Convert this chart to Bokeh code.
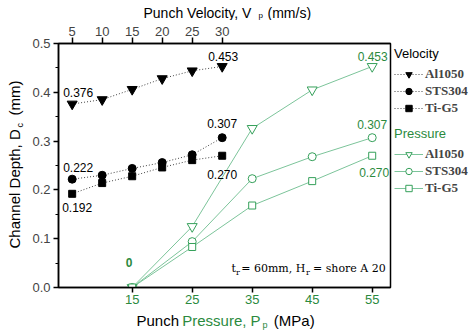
from math import pi
from bokeh.plotting import figure
from bokeh.layouts import column, row
from bokeh.models import (Range1d, LinearAxis, FixedTicker, Label, Legend,
                          LegendItem, PrintfTickFormatter)
from bokeh.embed import file_html
from bokeh.resources import INLINE

# ---- data ----
velocity = [5, 10, 15, 20, 25, 30]
v_al1050 = [0.376, 0.385, 0.406, 0.428, 0.444, 0.453]
v_sts304 = [0.222, 0.230, 0.244, 0.256, 0.272, 0.307]
v_tig5 = [0.192, 0.214, 0.228, 0.246, 0.261, 0.270]

pressure = [15, 25, 35, 45, 55]
p_al1050 = [0.0, 0.125, 0.326, 0.405, 0.453]
p_sts304 = [0.0, 0.094, 0.223, 0.268, 0.307]
p_tig5 = [0.0, 0.083, 0.168, 0.218, 0.270]

y_ticks = [0.0, 0.1, 0.2, 0.3, 0.4, 0.5]
y_minor = [0.05, 0.15, 0.25, 0.35, 0.45]
materials = ["Al1050", "STS304", "Ti-G5"]

# ---- styles ----
GREEN_TXT = "#2b8a3e"
GREEN_LINE = "#7cc49a"
GREEN_MK = "#35a05a"
SANS = "Liberation Sans"
SERIF = "DejaVu Serif"

# ---- main plot ----
p = figure(width=366, height=290, x_range=Range1d(2.72, 58.05), y_range=Range1d(0, 0.5),
           x_axis_type=None, y_axis_type=None, output_backend="svg", toolbar_location=None,
           title=None,
           min_border_left=32, min_border_right=2, min_border_top=23, min_border_bottom=23)
p.outline_line_color = "black"
p.outline_line_width = 1.5


def style_axis(ax):
    ax.axis_line_width = 1.5
    ax.major_tick_line_width = 1.5
    ax.major_tick_in = 0
    ax.major_label_text_font = SANS
    ax.major_label_text_font_size = "13px"


left = LinearAxis(ticker=FixedTicker(ticks=y_ticks, minor_ticks=y_minor),
                  formatter=PrintfTickFormatter(format="%.1f"))
style_axis(left)
left.major_tick_out = 5
left.minor_tick_out = 3
left.minor_tick_in = 0
left.major_label_standoff = 3
p.add_layout(left, "left")

top = LinearAxis(ticker=FixedTicker(ticks=velocity))
style_axis(top)
top.major_tick_out = 6
top.minor_tick_line_color = None
top.major_label_standoff = 2
p.add_layout(top, "above")

bottom = LinearAxis(ticker=FixedTicker(ticks=pressure))
style_axis(bottom)
bottom.major_tick_out = 5
bottom.minor_tick_line_color = None
bottom.major_label_standoff = 2
bottom.major_label_text_color = GREEN_TXT
p.add_layout(bottom, "below")

v_series = [v_al1050, v_sts304, v_tig5]
p_series = [p_al1050, p_sts304, p_tig5]
markers = [("inverted_triangle", 10), ("circle", 8), ("square", 7)]
V_LINE = dict(line_color="#444444", line_width=1, line_dash="1 2")
P_LINE = dict(line_color=GREEN_LINE, line_width=1)
V_MK = dict(fill_color="black", line_color="black")
P_MK = dict(fill_color="white", line_color=GREEN_MK, line_width=1)

for ys in v_series:
    p.line(velocity, ys, **V_LINE)
for ys in p_series:
    p.line(pressure, ys, **P_LINE)
for ys, (mk, sz) in zip(v_series, markers):
    p.scatter(velocity, ys, marker=mk, size=sz, **V_MK)
for ys, (mk, sz) in zip(p_series, markers):
    p.scatter(pressure, ys, marker=mk, size=sz, **P_MK)

# value labels
val_labels = [
    (velocity[0], v_al1050[0], 6, 12, "black"),
    (velocity[-1], v_al1050[-1], 1, 10, "black"),
    (velocity[0], v_sts304[0], 6, 12, "black"),
    (velocity[-1], v_sts304[-1], 0, 14, "black"),
    (velocity[-1], v_tig5[-1], 0, -19, "black"),
    (velocity[0], v_tig5[0], 5, -14, "black"),
    (pressure[-1], p_al1050[-1], 0.5, 10, GREEN_TXT),
    (pressure[-1], p_sts304[-1], 0, 13, GREEN_TXT),
    (pressure[-1], p_tig5[-1], 2, -16.5, GREEN_TXT),
]
for x, y, dx, dy, col in val_labels:
    p.add_layout(Label(x=x, y=y, text=f"{y:.3f}", x_offset=dx, y_offset=dy,
                       text_align="center", text_baseline="middle", text_color=col,
                       text_font=SANS, text_font_size="12px"))
p.add_layout(Label(x=pressure[0], y=p_al1050[0], text=f"{p_al1050[0]:.0f}", x_offset=-3, y_offset=25,
                   text_align="center", text_baseline="middle", text_color=GREEN_TXT,
                   text_font=SANS, text_font_size="12px", text_font_style="bold"))


def ptxt(fig, x, y, s, size, color="black", font=SANS, angle=0, units="data"):
    # (x, y) is the left end / vertical middle of the text
    fig.add_layout(Label(x=x, y=y, x_units=units, y_units=units, text=s,
                         text_font=font, text_font_size=size, text_color=color,
                         text_align="left", text_baseline="middle", angle=angle))


# annotation inside the frame (screen px from frame bottom-left)
ptxt(p, 173, 18.8, "t", "11px", font=SERIF, units="screen")
ptxt(p, 177.5, 14.8, "r", "8px", font=SERIF, units="screen")
ptxt(p, 182.7, 18.8, "= 60mm, H", "11px", font=SERIF, units="screen")
ptxt(p, 247.5, 14.8, "r", "8px", font=SERIF, units="screen")
ptxt(p, 254.5, 18.8, "= shore A 20", "11px", font=SERIF, units="screen")


# ---- strips around the plot (coordinates = page pixels of their frames) ----
def strip(w, h, x0, x1, y0, y1):
    f = figure(width=w, height=h, x_range=Range1d(x0, x1), y_range=Range1d(y1, y0),
               x_axis_type=None, y_axis_type=None, output_backend="svg",
               toolbar_location=None, min_border=0, title=None)
    f.outline_line_color = None
    return f


top_strip = strip(470, 20, 0, 470, 0, 20)
ptxt(top_strip, 143, 12.9, "Punch Velocity, V", "14px")
ptxt(top_strip, 258, 14.8, "p", "8px")
ptxt(top_strip, 267, 12.9, "(mm/s)", "14px")

bot_strip = strip(470, 23, 0, 470, 310, 333)
ptxt(bot_strip, 136, 319.8, "Punch ", "15px")
ptxt(bot_strip, 181.7, 319.8, "Pressure, P", "15px", GREEN_TXT)
ptxt(bot_strip, 262, 324.5, "p", "9px", GREEN_TXT)
ptxt(bot_strip, 273.3, 319.8, "(MPa)", "15px")

# frames in the row are aligned with the main frame (page y 43..287)
left_strip = strip(26, 290, 0, 26, 43, 287)
ptxt(left_strip, 13.5, 248, "Channel Depth, D", "15px", angle=pi / 2)
ptxt(left_strip, 19.5, 127, "c", "9px", angle=pi / 2)
ptxt(left_strip, 13.5, 115, "(mm)", "15px", angle=pi / 2)

# ---- legend panel ----
lg_fig = strip(78, 290, 392, 470, 43, 287)
v_items, p_items = [], []
for name, ys, (mk, sz) in zip(materials, v_series, markers):
    ln = lg_fig.line(velocity, ys, **V_LINE)
    sc = lg_fig.scatter(velocity, ys, marker=mk, size=sz, **V_MK)
    v_items.append(LegendItem(label=name, renderers=[ln, sc]))
for name, ys, (mk, sz) in zip(materials, p_series, markers):
    ln = lg_fig.line(pressure, ys, **P_LINE)
    sc = lg_fig.scatter(pressure, ys, marker=mk, size=sz, **P_MK)
    p_items.append(LegendItem(label=name, renderers=[ln, sc]))


def make_legend(items, title, color, loc):
    lg = Legend(items=items, title=title, location=loc)
    lg.title_text_font = SANS
    lg.title_text_font_size = "13px"
    lg.title_text_font_style = "normal"
    lg.title_text_color = color
    lg.title_standoff = 5
    lg.label_text_font = "Liberation Serif"
    lg.label_text_font_style = "bold"
    lg.label_text_font_size = "13px"
    lg.glyph_width = 29
    lg.glyph_height = 16
    lg.label_height = 16
    lg.label_standoff = 2
    lg.spacing = 1
    lg.padding = 0
    lg.margin = 0
    lg.border_line_color = None
    lg.background_fill_alpha = 0
    return lg


lg_fig.add_layout(make_legend(v_items, "Velocity", "black", (2, 170.7)))
lg_fig.add_layout(make_legend(p_items, "Pressure", GREEN_TXT, (2, 90.7)))

layout = column(top_strip, row(left_strip, p, lg_fig), bot_strip)

open("out.html", "w").write(file_html(layout, INLINE))
